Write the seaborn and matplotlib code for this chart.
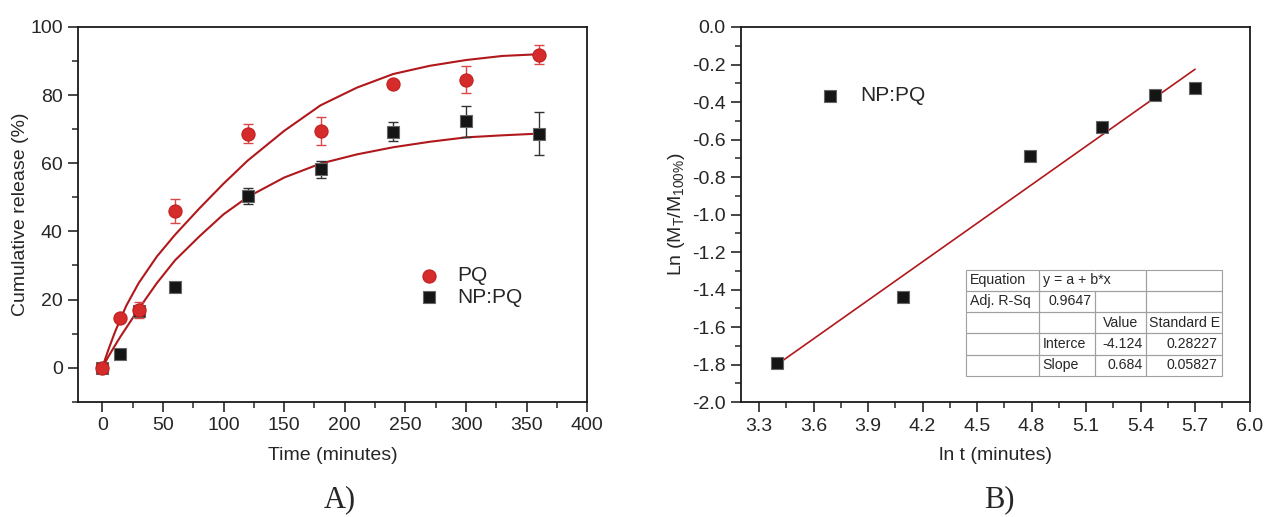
import numpy as np
import pandas as pd
import matplotlib.pyplot as plt
import seaborn as sns

# --- data ---
time_min = [0, 15, 30, 60, 120, 180, 240, 300, 360]
pq_release = [0, 14.5, 16.9, 45.9, 68.7, 69.6, 83.3, 84.5, 91.9]
pq_err = [0, 0, 2.4, 3.5, 2.8, 4.1, 0.8, 4.0, 2.8]
nppq_release = [0, 3.9, 16.6, 23.7, 50.3, 58.2, 69.3, 72.3, 68.7]
nppq_err = [0, 0, 1.0, 0, 2.3, 2.6, 2.7, 4.5, 6.4]

# fitted curves as drawn in panel A
fit_time = [0, 5, 10, 15, 20, 30, 45, 60, 80, 100, 120, 150, 180, 210, 240, 270, 300, 330, 360]
pq_fit = [0, 5.2, 10.0, 14.3, 18.3, 24.8, 32.6, 39.0, 46.7, 54.0, 60.8, 69.5, 77.0, 82.2,
          86.2, 88.6, 90.3, 91.5, 92.0]
nppq_fit = [0, 3.2, 6.2, 9.1, 11.8, 17.2, 24.8, 31.5, 38.5, 45.0, 50.1, 55.8, 59.9, 62.6,
            64.7, 66.3, 67.6, 68.2, 68.7]

# panel B
ln_t = [3.40, 4.09, 4.79, 5.19, 5.48, 5.70]
ln_ratio = [-1.79, -1.44, -0.685, -0.535, -0.365, -0.325]
fit_a, fit_b = -4.124, 0.684

table_rows = [
    ["Equation", "y = a + b*x", "", ""],
    ["Adj. R-Sq", "0.9647", "", ""],
    ["", "", "Value", "Standard E"],
    ["", "Interce", "-4.124", "0.28227"],
    ["", "Slope", "0.684", "0.05827"],
]

sns.set_style("ticks")
plt.rcParams['font.family'] = ['Liberation Sans', 'DejaVu Sans']
plt.rcParams['mathtext.fontset'] = 'custom'
plt.rcParams['mathtext.rm'] = 'Liberation Sans'
plt.rcParams['mathtext.it'] = 'Liberation Sans'

red = "#d62b2b"
red_edge = "#c01f1f"
fit_red = "#b0181c"
black = "#151515"

fig = plt.figure(figsize=(12.66, 5.17), dpi=100)
ax1 = fig.add_axes([0.0616, 0.223, 0.4023, 0.7248])
ax2 = fig.add_axes([0.5853, 0.222, 0.4017, 0.7258])

fit_df = pd.DataFrame({"t": fit_time, "PQ": pq_fit, "NP:PQ": nppq_fit})
for name in ["PQ", "NP:PQ"]:
    sns.lineplot(data=fit_df, x="t", y=name, ax=ax1, color=fit_red, lw=1.5, sort=False, zorder=2)

ax1.errorbar(time_min, nppq_release, yerr=nppq_err, fmt="none", ecolor="#333333",
             elinewidth=1, capsize=3.5, zorder=3)
ax1.errorbar(time_min, pq_release, yerr=pq_err, fmt="none", ecolor="#d84848",
             elinewidth=1, capsize=3.5, zorder=3)
sns.scatterplot(x=time_min, y=nppq_release, ax=ax1, marker="s", s=75, color=black,
                edgecolor="#666666", linewidth=0.8, zorder=4, label="NP:PQ")
sns.scatterplot(x=time_min, y=pq_release, ax=ax1, marker="o", s=90, color=red,
                edgecolor=red_edge, linewidth=0.8, zorder=5, label="PQ")

h, l = ax1.get_legend_handles_labels()
ax1.legend([h[1], h[0]], [l[1], l[0]], loc="center left", bbox_to_anchor=(0.6686, 0.308),
           frameon=False, fontsize=15, handletextpad=0.85, labelspacing=0.12,
           handlelength=1.0, borderaxespad=0, borderpad=0)

ax1.set_xlim(-20, 400)
ax1.set_ylim(-10, 100)
ax1.set_xticks(range(0, 401, 50))
ax1.set_xticks(range(25, 400, 50), minor=True)
ax1.set_yticks(range(0, 101, 20))
ax1.set_yticks(range(-10, 100, 20), minor=True)
ax1.set_xlabel("Time (minutes)", fontsize=14)
ax1.set_ylabel("Cumulative release (%)", fontsize=14)
ax1.xaxis.set_label_coords(0.5, -0.121)
ax1.yaxis.set_label_coords(-0.096, 0.5)

# panel B
sns.scatterplot(x=ln_t, y=ln_ratio, ax=ax2, marker="s", s=75, color=black,
                edgecolor="#666666", linewidth=0.8, zorder=4, label="NP:PQ")
x_line = np.array([ln_t[0], ln_t[-1]])
sns.lineplot(x=x_line, y=fit_a + fit_b * x_line, ax=ax2, color=fit_red, lw=1.2, zorder=3)
ax2.legend(loc="center left", bbox_to_anchor=(0.1546, 0.817), frameon=False, fontsize=15,
           handletextpad=0.94, handlelength=1.0, borderaxespad=0, borderpad=0)

ax2.set_xlim(3.2, 6.0)
ax2.set_ylim(-2.0, 0.0)
xt = [3.3, 3.6, 3.9, 4.2, 4.5, 4.8, 5.1, 5.4, 5.7, 6.0]
yt = [-2.0, -1.8, -1.6, -1.4, -1.2, -1.0, -0.8, -0.6, -0.4, -0.2, 0.0]
ax2.set_xticks(xt, [f"{v:.1f}" for v in xt])
ax2.set_xticks(np.arange(3.45, 6.0, 0.3), minor=True)
ax2.set_yticks(yt, [f"{abs(v):.1f}" if v == 0 else f"{v:.1f}" for v in yt])
ax2.set_yticks(np.arange(-1.9, 0.0, 0.2), minor=True)
ax2.set_xlabel("ln t (minutes)", fontsize=14)
ax2.set_ylabel(r"Ln (M$_T$/M$_{100\%}$)", fontsize=14)
ax2.xaxis.set_label_coords(0.5, -0.12)
ax2.yaxis.set_label_coords(-0.106, 0.5)

tbl = ax2.table(cellText=table_rows, bbox=[0.4422, 0.0699, 0.5042, 0.2838],
                colWidths=[73.4, 56, 50.7, 76.7], cellLoc="left")
tbl.auto_set_font_size(False)
tbl.set_fontsize(10.2)
right_cells = {(1, 1), (3, 2), (3, 3), (4, 2), (4, 3)}
for (r, c), cell in tbl.get_celld().items():
    cell.set_edgecolor("#a0a0a0")
    cell.set_linewidth(0.8)
    cell.set_facecolor("none")
    cell.PAD = 0.06
    if (r, c) in right_cells:
        cell.get_text().set_horizontalalignment("right")
    if (r, c) == (2, 2):
        cell.get_text().set_horizontalalignment("center")
tbl[2, 3].PAD = 0.04
# first row: equation text spans two columns
tbl[0, 1].visible_edges = "BTL"
tbl[0, 2].visible_edges = "BTR"

for ax in (ax1, ax2):
    for s in ax.spines.values():
        s.set_linewidth(1.3)
        s.set_color("#1a1a1a")
    ax.tick_params(axis="both", which="major", direction="out", length=7, width=1.2,
                   labelsize=14, pad=4, top=False, right=False)
    ax.tick_params(axis="both", which="minor", direction="out", length=4, width=1.1,
                   top=False, right=False)

fig.text(0.2686, 0.033, "A)", fontsize=22, family="Liberation Serif", ha="center", va="center")
fig.text(0.789, 0.033, "B)", fontsize=22, family="Liberation Serif", ha="center", va="center")

fig.savefig("out.png", dpi=100)
